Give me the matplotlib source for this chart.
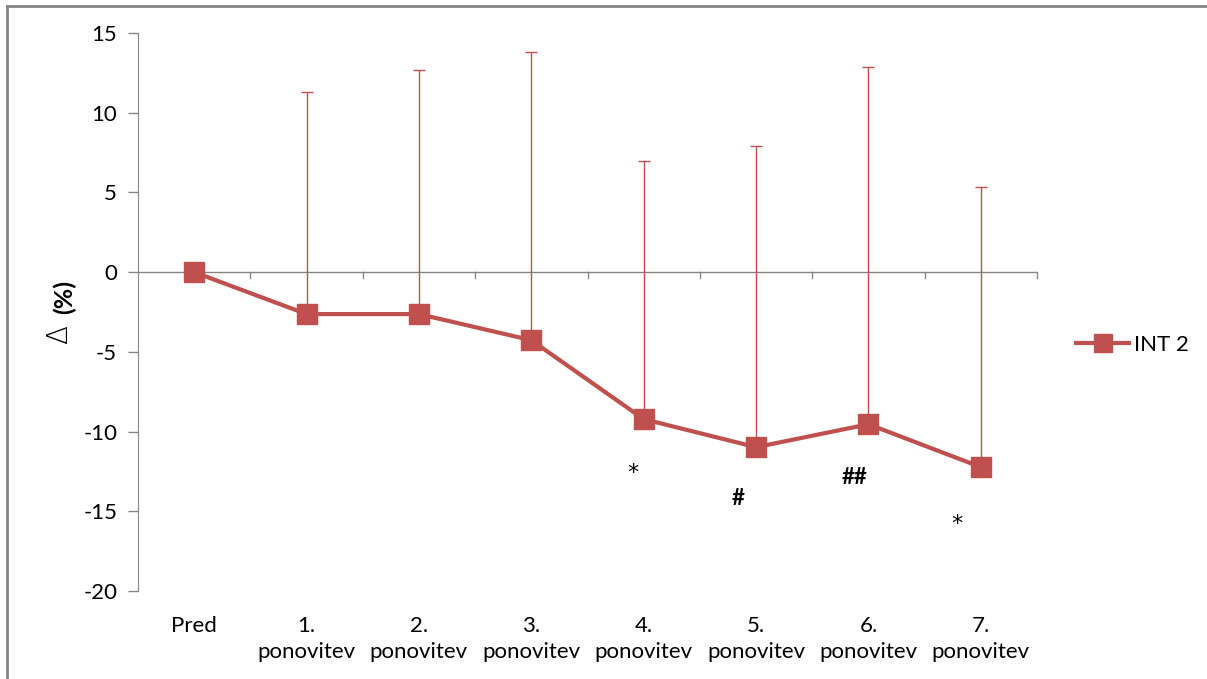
import numpy as np
import matplotlib.pyplot as plt
from matplotlib.lines import Line2D

plt.rcParams['font.family'] = ['Lato', 'DejaVu Sans']
plt.rcParams['axes.unicode_minus'] = False

# Podatki: povprecna sprememba (%) in SD (navzgor) za INT 2
labels = ['Pred', '1.\nponovitev', '2.\nponovitev', '3.\nponovitev',
          '4.\nponovitev', '5.\nponovitev', '6.\nponovitev', '7.\nponovitev']
means = [0.0, -2.63, -2.63, -4.27, -9.22, -10.98, -9.54, -12.23]
sd_up = [0.0, 13.9, 15.3, 18.1, 16.2, 18.9, 22.4, 17.6]

# oznake statisticne znacilnosti
sig_idx = [4, 5, 6, 7]
sig_txt = ['*', '#', '##', '*']
sig_y = [-12.6, -14.2, -12.9, -15.8]
sig_dx = [-0.10, -0.16, -0.12, -0.21]

RED = '#C0504D'
GRAY = '#868686'

fig = plt.figure(figsize=(12.07, 6.79), dpi=100)
ax = fig.add_axes([0.1143, 0.1296, 0.7449, 0.8218])

x = np.arange(len(labels))
ax.errorbar(x, means, yerr=[np.zeros(len(sd_up)), sd_up], fmt='none',
            ecolor=RED, elinewidth=1, capsize=4, capthick=1, zorder=2)
ax.plot(x, means, color=RED, lw=3, marker='s', ms=14, mfc=RED, mec=RED,
        label='INT 2', zorder=3)

for i, t, yy, dx in zip(sig_idx, sig_txt, sig_y, sig_dx):
    fam = 'DejaVu Sans' if t == '*' else 'Lato'
    ax.text(i + dx, yy, t, ha='center', va='center', fontsize=16,
            color='black', family=fam, fontweight='bold' if t != '*' else 'normal')

ax.set_xlim(-0.5, len(labels) - 0.5)
ax.set_ylim(-20, 15)
ax.set_yticks(np.arange(-20, 16, 5))
ax.tick_params(axis='y', direction='out', length=7, width=1, color=GRAY,
               labelsize=16, pad=8)

# os x poteka skozi nic
for s in ['top', 'right', 'bottom']:
    ax.spines[s].set_visible(False)
ax.spines['left'].set_color(GRAY)
ax.axhline(0, color=GRAY, lw=1, zorder=1)
for b in np.arange(0.5, len(labels) - 0.4, 1):
    ax.plot([b, b], [0, -0.35], color=GRAY, lw=1, zorder=1, clip_on=False)

ax.set_xticks(x)
ax.set_xticklabels(labels, fontsize=16, linespacing=1.35)
ax.tick_params(axis='x', length=0, pad=18)

# oznaka osi y: Δ navadno, (%) krepko
fig.text(0.049, 0.508, 'Δ', rotation=90, ha='center', va='center',
         fontsize=20, family='DejaVu Sans', fontweight='light')
fig.text(0.053, 0.5626, '(%)', rotation=90, ha='center', va='center',
         fontsize=18, fontweight='bold')

handle = Line2D([], [], color=RED, lw=3, marker='s', ms=13, mfc=RED, mec=RED)
fig.legend([handle], ['INT 2'], loc='center left', bbox_to_anchor=(0.875, 0.492),
           frameon=False, fontsize=16, handlelength=2.4, handletextpad=0.2)

# ramka okoli grafa
fig.add_artist(Line2D([0.006, 1.0], [0.9912, 0.9912], color=GRAY, lw=2,
                      transform=fig.transFigure))
fig.add_artist(Line2D([0.006, 0.006], [0.0, 0.9912], color=GRAY, lw=2,
                      transform=fig.transFigure))

fig.savefig('out.png', dpi=100, facecolor='white')
